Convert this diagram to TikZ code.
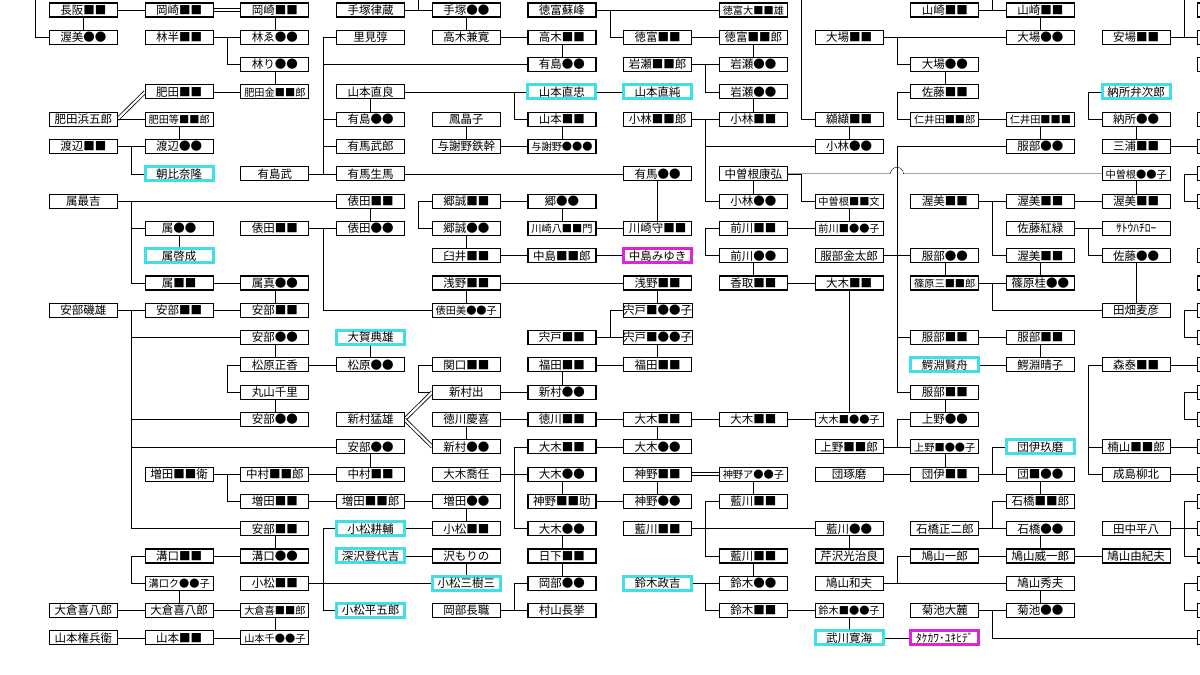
\documentclass[tikz,border=0pt]{standalone}
\usepackage{fontspec}
\setmainfont{Noto Sans CJK JP}
\definecolor{hlcyan}{RGB}{64,222,230}
\definecolor{hlpink}{RGB}{222,34,222}
\pgfdeclarelayer{paper}
\pgfdeclarelayer{wires}
\pgfsetlayers{paper,wires,main}
\tikzset{
    box/.style={draw, fill=white, line width=1.1pt, minimum width=68pt, minimum height=14pt,
        text height=10pt, text depth=1.2pt,
        inner sep=0pt, outer sep=0pt, font=\fontsize{11.5}{12}\selectfont},
    lbox/.style={box, font=\fontsize{10.2}{11}\selectfont},
    cyanbox/.style={box, draw=hlcyan, line width=3pt},
    pinkbox/.style={box, draw=hlpink, line width=3pt},
    dbl/.style={double, double distance=2.2pt, line width=.8pt}
}
\newcommand{\gapw}{13.85pt}

\begin{document}
\begin{tikzpicture}[x={(95.7pt,0)}, y={(0,-27.3pt)}, line width=1.1pt]
    \useasboundingbox (-0.8725,-0.3663) rectangle (11.667,24.359);
    \begin{pgfonlayer}{paper}
        \fill[white] (-0.8725,-0.3663) rectangle (11.667,24.359);
    \end{pgfonlayer}

    % row 0
    \node[box] (a0) at (0,0) {長阪■■};
    \node[box] (b0) at (1,0) {岡崎■■};
    \node[box] (c0) at (2,0) {岡崎■■};
    \node[box] (d0) at (3,0) {手塚律蔵};
    \node[box] (e0) at (4,0) {手塚●●};
    \node[box] (f0) at (5,0) {徳富蘇峰};
    \node[lbox] (h0) at (7,0) {徳富大■■雄};
    \node[box] (j0) at (9,0) {山崎■■};
    \node[box] (k0) at (10,0) {山崎■■};
    \node[box] (m0) at (12,0) {};
    % row 1
    \node[box] (a1) at (0,1) {渥美●●};
    \node[box] (b1) at (1,1) {林半■■};
    \node[box] (c1) at (2,1) {林ゑ●●};
    \node[box] (d1) at (3,1) {里見弴};
    \node[box] (e1) at (4,1) {高木兼寛};
    \node[box] (f1) at (5,1) {高木■■};
    \node[box] (g1) at (6,1) {徳富■■};
    \node[box] (h1) at (7,1) {徳富■■郎};
    \node[box] (i1) at (8,1) {大場■■};
    \node[box] (k1) at (10,1) {大場●●};
    \node[box] (l1) at (11,1) {安場■■};
    \node[box] (m1) at (12,1) {};
    % row 2
    \node[box] (c2) at (2,2) {林り●●};
    \node[box] (f2) at (5,2) {有島●●};
    \node[box] (g2) at (6,2) {岩瀬■■郎};
    \node[box] (h2) at (7,2) {岩瀬●●};
    \node[box] (j2) at (9,2) {大場●●};
    \node[box] (m2) at (12,2) {};
    % row 3
    \node[box] (b3) at (1,3) {肥田■■};
    \node[lbox] (c3) at (2,3) {肥田金■■郎};
    \node[box] (d3) at (3,3) {山本直良};
    \node[cyanbox] (f3) at (5,3) {山本直忠};
    \node[cyanbox] (g3) at (6,3) {山本直純};
    \node[box] (h3) at (7,3) {岩瀬●●};
    \node[box] (j3) at (9,3) {佐藤■■};
    \node[cyanbox] (l3) at (11,3) {納所弁次郎};
    % row 4
    \node[box] (a4) at (0,4) {肥田浜五郎};
    \node[lbox] (b4) at (1,4) {肥田等■■郎};
    \node[box] (d4) at (3,4) {有島●●};
    \node[box] (e4) at (4,4) {鳳晶子};
    \node[box] (f4) at (5,4) {山本■■};
    \node[box] (g4) at (6,4) {小林■■郎};
    \node[box] (h4) at (7,4) {小林■■};
    \node[box] (i4) at (8,4) {纐纈■■};
    \node[lbox] (j4) at (9,4) {仁井田■■郎};
    \node[lbox] (k4) at (10,4) {仁井田■■■};
    \node[box] (l4) at (11,4) {納所●●};
    \node[box] (m4) at (12,4) {};
    % row 5
    \node[box] (a5) at (0,5) {渡辺■■};
    \node[box] (b5) at (1,5) {渡辺●●};
    \node[box] (d5) at (3,5) {有馬武郎};
    \node[box] (e5) at (4,5) {与謝野鉄幹};
    \node[lbox] (f5) at (5,5) {与謝野●●●};
    \node[box] (i5) at (8,5) {小林●●};
    \node[box] (k5) at (10,5) {服部●●};
    \node[box] (l5) at (11,5) {三浦■■};
    \node[box] (m5) at (12,5) {};
    % row 6
    \node[cyanbox] (b6) at (1,6) {朝比奈隆};
    \node[box] (c6) at (2,6) {有島武};
    \node[box] (d6) at (3,6) {有馬生馬};
    \node[box] (g6) at (6,6) {有馬●●};
    \node[box] (h6) at (7,6) {中曽根康弘};
    \node[lbox] (l6) at (11,6) {中曽根●●子};
    \node[box] (m6) at (12,6) {};
    % row 7
    \node[box] (a7) at (0,7) {属最吉};
    \node[box] (d7) at (3,7) {俵田■■};
    \node[box] (e7) at (4,7) {郷誠■■};
    \node[box] (f7) at (5,7) {郷●●};
    \node[box] (h7) at (7,7) {小林●●};
    \node[lbox] (i7) at (8,7) {中曽根■■文};
    \node[box] (j7) at (9,7) {渥美■■};
    \node[box] (k7) at (10,7) {渥美■■};
    \node[box] (l7) at (11,7) {渥美■■};
    \node[box] (m7) at (12,7) {};
    % row 8
    \node[box] (b8) at (1,8) {属●●};
    \node[box] (c8) at (2,8) {俵田■■};
    \node[box] (d8) at (3,8) {俵田●●};
    \node[box] (e8) at (4,8) {郷誠●●};
    \node[lbox] (f8) at (5,8) {川崎八■■門};
    \node[box] (g8) at (6,8) {川崎守■■};
    \node[box] (h8) at (7,8) {前川■■};
    \node[lbox] (i8) at (8,8) {前川■●●子};
    \node[box] (k8) at (10,8) {佐藤紅緑};
    \node[box] (l8) at (11,8) {ｻﾄｳﾊﾁﾛｰ};
    % row 9
    \node[cyanbox] (b9) at (1,9) {属啓成};
    \node[box] (e9) at (4,9) {臼井■■};
    \node[box] (f9) at (5,9) {中島■■郎};
    \node[pinkbox] (g9) at (6,9) {中島みゆき};
    \node[box] (h9) at (7,9) {前川●●};
    \node[box] (i9) at (8,9) {服部金太郎};
    \node[box] (j9) at (9,9) {服部●●};
    \node[box] (k9) at (10,9) {渥美■■};
    \node[box] (l9) at (11,9) {佐藤●●};
    \node[box] (m9) at (12,9) {};
    % row 10
    \node[box] (b10) at (1,10) {属■■};
    \node[box] (c10) at (2,10) {属真●●};
    \node[box] (e10) at (4,10) {浅野■■};
    \node[box] (g10) at (6,10) {浅野■■};
    \node[box] (h10) at (7,10) {香取■■};
    \node[box] (i10) at (8,10) {大木■■};
    \node[lbox] (j10) at (9,10) {篠原三■■郎};
    \node[box] (k10) at (10,10) {篠原桂●●};
    \node[box] (m10) at (12,10) {};
    % row 11
    \node[box] (a11) at (0,11) {安部磯雄};
    \node[box] (b11) at (1,11) {安部■■};
    \node[box] (c11) at (2,11) {安部■■};
    \node[lbox] (e11) at (4,11) {俵田美●●子};
    \node[box] (g11) at (6,11) {宍戸■●●子};
    \node[box] (l11) at (11,11) {田畑麦彦};
    \node[box] (m11) at (12,11) {};
    % row 12
    \node[box] (c12) at (2,12) {安部●●};
    \node[cyanbox] (d12) at (3,12) {大賀典雄};
    \node[box] (f12) at (5,12) {宍戸■■};
    \node[box] (g12) at (6,12) {宍戸■●●子};
    \node[box] (j12) at (9,12) {服部■■};
    \node[box] (k12) at (10,12) {服部■■};
    \node[box] (m12) at (12,12) {};
    % row 13
    \node[box] (c13) at (2,13) {松原正香};
    \node[box] (d13) at (3,13) {松原●●};
    \node[box] (e13) at (4,13) {関口■■};
    \node[box] (f13) at (5,13) {福田■■};
    \node[box] (g13) at (6,13) {福田■■};
    \node[cyanbox] (j13) at (9,13) {鰐淵賢舟};
    \node[box] (k13) at (10,13) {鰐淵晴子};
    \node[box] (l13) at (11,13) {森泰■■};
    \node[box] (m13) at (12,13) {};
    % row 14
    \node[box] (c14) at (2,14) {丸山千里};
    \node[box] (e14) at (4,14) {新村出};
    \node[box] (f14) at (5,14) {新村●●};
    \node[box] (j14) at (9,14) {服部■■};
    \node[box] (m14) at (12,14) {};
    % row 15
    \node[box] (c15) at (2,15) {安部●●};
    \node[box] (d15) at (3,15) {新村猛雄};
    \node[box] (e15) at (4,15) {徳川慶喜};
    \node[box] (f15) at (5,15) {徳川■■};
    \node[box] (g15) at (6,15) {大木■■};
    \node[box] (h15) at (7,15) {大木■■};
    \node[lbox] (i15) at (8,15) {大木■●●子};
    \node[box] (j15) at (9,15) {上野●●};
    \node[box] (m15) at (12,15) {};
    % row 16
    \node[box] (d16) at (3,16) {安部●●};
    \node[box] (e16) at (4,16) {新村●●};
    \node[box] (f16) at (5,16) {大木■■};
    \node[box] (g16) at (6,16) {大木●●};
    \node[box] (i16) at (8,16) {上野■■郎};
    \node[lbox] (j16) at (9,16) {上野■●●子};
    \node[cyanbox] (k16) at (10,16) {団伊玖磨};
    \node[box] (l16) at (11,16) {楠山■■郎};
    \node[box] (m16) at (12,16) {};
    % row 17
    \node[box] (b17) at (1,17) {増田■■衛};
    \node[box] (c17) at (2,17) {中村■■郎};
    \node[box] (d17) at (3,17) {中村■■};
    \node[box] (e17) at (4,17) {大木喬任};
    \node[box] (f17) at (5,17) {大木●●};
    \node[box] (g17) at (6,17) {神野■■};
    \node[lbox] (h17) at (7,17) {神野ア●●子};
    \node[box] (i17) at (8,17) {団琢磨};
    \node[box] (j17) at (9,17) {団伊■■};
    \node[box] (k17) at (10,17) {団■●●};
    \node[box] (l17) at (11,17) {成島柳北};
    \node[box] (m17) at (12,17) {};
    % row 18
    \node[box] (c18) at (2,18) {増田■■};
    \node[box] (d18) at (3,18) {増田■■郎};
    \node[box] (e18) at (4,18) {増田●●};
    \node[box] (f18) at (5,18) {神野■■助};
    \node[box] (g18) at (6,18) {神野●●};
    \node[box] (h18) at (7,18) {藍川■■};
    \node[box] (k18) at (10,18) {石橋■■郎};
    \node[box] (m18) at (12,18) {};
    % row 19
    \node[box] (c19) at (2,19) {安部■■};
    \node[cyanbox] (d19) at (3,19) {小松耕輔};
    \node[box] (e19) at (4,19) {小松■■};
    \node[box] (f19) at (5,19) {大木●●};
    \node[box] (g19) at (6,19) {藍川■■};
    \node[box] (i19) at (8,19) {藍川●●};
    \node[box] (j19) at (9,19) {石橋正二郎};
    \node[box] (k19) at (10,19) {石橋●●};
    \node[box] (l19) at (11,19) {田中平八};
    \node[box] (m19) at (12,19) {};
    % row 20
    \node[box] (b20) at (1,20) {溝口■■};
    \node[box] (c20) at (2,20) {溝口●●};
    \node[cyanbox] (d20) at (3,20) {深沢登代吉};
    \node[box] (e20) at (4,20) {沢もりの};
    \node[box] (f20) at (5,20) {日下■■};
    \node[box] (h20) at (7,20) {藍川■■};
    \node[box] (i20) at (8,20) {芹沢光治良};
    \node[box] (j20) at (9,20) {鳩山一郎};
    \node[box] (k20) at (10,20) {鳩山威一郎};
    \node[box] (l20) at (11,20) {鳩山由紀夫};
    \node[box] (m20) at (12,20) {};
    % row 21
    \node[lbox] (b21) at (1,21) {溝口ク●●子};
    \node[box] (c21) at (2,21) {小松■■};
    \node[cyanbox] (e21) at (4,21) {小松三樹三};
    \node[box] (f21) at (5,21) {岡部●●};
    \node[cyanbox] (g21) at (6,21) {鈴木政吉};
    \node[box] (h21) at (7,21) {鈴木●●};
    \node[box] (i21) at (8,21) {鳩山和夫};
    \node[box] (k21) at (10,21) {鳩山秀夫};
    \node[box] (m21) at (12,21) {};
    % row 22
    \node[box] (a22) at (0,22) {大倉喜八郎};
    \node[box] (b22) at (1,22) {大倉喜八郎};
    \node[lbox] (c22) at (2,22) {大倉喜■■郎};
    \node[cyanbox] (d22) at (3,22) {小松平五郎};
    \node[box] (e22) at (4,22) {岡部長職};
    \node[box] (f22) at (5,22) {村山長挙};
    \node[box] (h22) at (7,22) {鈴木■■};
    \node[lbox] (i22) at (8,22) {鈴木■●●子};
    \node[box] (j22) at (9,22) {菊池大麓};
    \node[box] (k22) at (10,22) {菊池●●};
    \node[box] (m22) at (12,22) {};
    % row 23
    \node[box] (a23) at (0,23) {山本権兵衛};
    \node[box] (b23) at (1,23) {山本■■};
    \node[lbox] (c23) at (2,23) {山本千●●子};
    \node[cyanbox] (i23) at (8,23) {武川寛海};
    \node[pinkbox] (j23) at (9,23) {ﾀｹｶﾜ･ﾕｷﾋﾃﾞ};
    \node[box] (m23) at (12,23) {};

    % free ends above the top edge, and the crossing
    \coordinate (topa) at (-0.5,-0.5);
    \coordinate (tope) at (3.5,-0.5);
    \coordinate (topi) at (7.5,-0.5);
    \coordinate (topk) at (9.5,-0.5);
    \coordinate (topm) at (11.5,-0.5);
    \coordinate (hop) at (8.5,6);

    \begin{pgfonlayer}{wires}
    \draw (topa) |- (a1);
    \draw (tope) |- (e0);
    \draw (topi) |- (i4);
    \draw (topk) |- (k0);
    \draw (topm) |- (m1);

    % horizontal links and forks
    \draw (a0) -- (b0);
    \draw[dbl] (b0) -- (c0);
    \draw (d0) -- (e0);
    \draw (f0) -- (h0);
    \draw (f0.east) ++(\gapw,0) |- (g1);
    \draw (j0) -- (k0);

    \draw (b1) -- (c1);
    \draw (b1.east) ++(\gapw,0) |- (c2);
    \draw (e1) -- (f1);
    \draw (g1) -- (h1);
    \draw (i1) -- (k1);
    \draw (i1.east) ++(\gapw,0) |- (j2);
    \draw (l1) -- (m1);

    \draw (g2) -- (h2);
    \draw (g2.east) ++(\gapw,0) |- (h3);

    \draw (b3) -- (c3);
    \draw (d3) -- (f3);
    \draw ([xshift=-\gapw]f3.west) |- (f4);
    \draw (f3) -- (g3);
    \draw (j3.west) -- ++(-\gapw,0) |- (j4);
    \draw (l3.west) -- ++(-\gapw,0) |- (l4);

    \draw[dbl] (a4.east) -- (b3.west);
    \draw (a4) -- (b4);
    \draw (g4) -- (h4);
    \draw (g4.east) ++(\gapw,0) |- (h7);
    \draw (g4.east) ++(\gapw,0) |- (i5);
    \draw (j4) -- (k4);

    \draw (a5) -- (b5);
    \draw (a5.east) ++(\gapw,0) |- (b6);
    \draw (e5) -- (f5);
    \draw (k5) -| ([xshift=-\gapw]j14.west) -- (j14);
    \draw ([xshift=-\gapw]j12.west) -- (j12);
    \draw (l5) -- (m5);

    \draw (c6) -- (d6);
    \draw (c6.east) ++(\gapw,0) |- (d1);
    \draw (c6.east) ++(\gapw,0) |- (f2);
    \draw (c6.east) ++(\gapw,0) |- (d4);
    \draw (c6.east) ++(\gapw,0) |- (d5);
    \draw (d6) -- (g6);
    \draw (h6.east) -- ([xshift=-6.5pt]hop) arc[start angle=180, end angle=0, radius=6.5pt] -- (l6);
    \draw (h6.east) -- ++(\gapw,0) |- (i7);
    \draw (m6.west) -- ++(-\gapw,0) |- (m7);

    \draw (a7) -- (d7);
    \draw (a7.east) ++(\gapw,0) |- (b8);
    \draw (a7.east) ++(\gapw,0) |- (b10);
    \draw (e7) -- (f7);
    \draw (e7.west) -- ++(-\gapw,0) |- (e8);
    \draw (j7) -- (k7);
    \draw (j7.east) ++(\gapw,0) |- (k9);
    \draw (k7) -- (l7);

    \draw (c8) -- (d8);
    \draw (c8.east) ++(\gapw,0) |- (e11);
    \draw (f8) -- (g8);
    \draw (h8) -- (i8);
    \draw (h8.west) -- ++(-\gapw,0) |- (h9);
    \draw (k8) -- (l8);
    \draw (k8.east) ++(\gapw,0) |- (l9);

    \draw (e9) -- (f9);
    \draw (f9) -- (g9);
    \draw (i9) -- (j9);

    \draw (b10) -- (c10);
    \draw (e10) -- (g10);
    \draw (h10) -- (i10);
    \draw (j10) -- (k10);
    \draw (j10.east) ++(\gapw,0) |- (l11);

    \draw (a11) -- (b11);
    \draw (b11) -- (c11);
    \draw (a11.east) ++(\gapw,0) |- (c12);
    \draw (a11.east) ++(\gapw,0) |- (c15);
    \draw (a11.east) ++(\gapw,0) |- (d16);
    \draw (a11.east) ++(\gapw,0) |- (c19);
    \draw (m11.west) -- ++(-\gapw,0) |- (m12);

    \draw (f12) -- (g12);
    \draw (f12.east) ++(\gapw,0) |- (g11);
    \draw (j12) -- (k12);

    \draw (c13) -- (d13);
    \draw (c13.west) -- ++(-\gapw,0) |- (c14);
    \draw (e13.west) -- ++(-\gapw,0) |- (e14);
    \draw (f13) -- (g13);
    \draw (j13) -- (k13);
    \draw (l13) -- (m13);
    \draw (l13.west) -- ++(-\gapw,0) |- (l17);
    \draw (l13.west) ++(-\gapw,0) |- (l16);

    \draw (e14) -- (f14);
    \draw[dbl] (d15.east) -- (e14.west);
    \draw[dbl] (d15.east) -- (e16.west);
    \draw (m14.west) -- ++(-\gapw,0) |- (m15);
    \draw (e15) -- (f15);
    \draw (f15) -- (g15);
    \draw (g15) -- (h15);
    \draw (h15) -- (i15);

    \draw (f16) -- (g16);
    \draw (i16) -- (j16);
    \draw (i16.east) ++(\gapw,0) |- (j15);
    \draw (l16) -- (m16);

    \draw (b17) -- (c17);
    \draw (b17.east) ++(\gapw,0) |- (c18);
    \draw (c17) -- (d17);
    \draw (e17) -- (f17);
    \draw (e17.east) ++(\gapw,0) |- (f16);
    \draw (e17.east) ++(\gapw,0) |- (f19);
    \draw[dbl] (g17) -- (h17);
    \draw (i17) -- (j17);
    \draw (j17) -- (k17);
    \draw (j17.east) ++(\gapw,0) |- (k16);
    \draw (l17) -- (m17);

    \draw (c18) -- (d18);
    \draw (d18) -- (e18);
    \draw (f18) -- (g18);

    \draw (d19) -- (e19);
    \draw (g19) -- (i19);
    \draw (g19.east) ++(\gapw,0) |- (h18);
    \draw (g19.east) ++(\gapw,0) |- (h20);
    \draw (j19) -- (k19);
    \draw (j19.east) ++(\gapw,0) |- (k18);
    \draw (l19) -- (m19);
    \draw (l19.east) ++(\gapw,0) |- (m18);
    \draw (l19.east) ++(\gapw,0) |- (m20);

    \draw (b20) -- (c20);
    \draw (b20.west) -- ++(-\gapw,0) |- (b21);
    \draw (d20) -- (e20);
    \draw (j20) -- (k20);
    \draw (k20) -- (l20);

    \draw (c21) -- (e21);
    \draw (c21.east) ++(\gapw,0) |- (d19);
    \draw (c21.east) ++(\gapw,0) |- (d22);
    \draw (g21) -- (h21);
    \draw (g21.east) ++(\gapw,0) |- (h22);
    \draw (i21) -- (k21);
    \draw (i21.east) ++(\gapw,0) |- (j20);
    \draw (m21.west) -- ++(-\gapw,0) |- (m22);

    \draw (a22) -- (b22);
    \draw (b22) -- (c22);
    \draw (e22) -- (f22);
    \draw (e22.east) ++(\gapw,0) |- (f21);
    \draw (h22) -- (i22);
    \draw (j22) -- (k22);
    \draw (j22.east) ++(\gapw,0) |- (m23);

    \draw (a23) -- (b23);
    \draw (b23) -- (c23);
    \draw (i23) -- (j23);

    % vertical links
    \draw (a0) -- (a1);
    \draw (c0) -- (c1);
    \draw (c2) -- (c3);
    \draw (b4) -- (b5);
    \draw (e0) -- (e1);
    \draw (f1) -- (f2);
    \draw (h1) -- (h2);
    \draw (h3) -- (h4);
    \draw (k0) -- (k1);
    \draw (j2) -- (j3);
    \draw (d3) -- (d4);
    \draw (e4) -- (e5);
    \draw (f4) -- (f5);
    \draw (i4) -- (i5);
    \draw (k4) -- (k5);
    \draw (l4) -- (l5);
    \draw (h6) -- (h7);
    \draw (l6) -- (l7);
    \draw (d7) -- (d8);
    \draw (b8) -- (b9);
    \draw (f7) -- (f8);
    \draw (g6) -- (g8);
    \draw (e8) -- (e9);
    \draw (i7) -- (i8);
    \draw (h9) -- (h10);
    \draw (j9) -- (j10);
    \draw (k9) -- (k10);
    \draw (l9) -- (l11);
    \draw (e10) -- (e11);
    \draw (g10) -- (g11);
    \draw (c10) -- (c11);
    \draw (c12) -- (c13);
    \draw (d12) -- (d13);
    \draw (g12) -- (g13);
    \draw (f13) -- (f14);
    \draw (k12) -- (k13);
    \draw (c14) -- (c15);
    \draw (e15) -- (e16);
    \draw (g15) -- (g16);
    \draw (i10) -- (i15);
    \draw (j14) -- (j15);
    \draw (d16) -- (d17);
    \draw (j16) -- (j17);
    \draw (f17) -- (f18);
    \draw (g17) -- (g18);
    \draw (h17) -- (h18);
    \draw (k17) -- (k18);
    \draw (e18) -- (e19);
    \draw (c19) -- (c20);
    \draw (f19) -- (f20);
    \draw (f20) -- (f21);
    \draw (i19) -- (i20);
    \draw (k19) -- (k20);
    \draw (e20) -- (e21);
    \draw (h20) -- (h21);
    \draw (k21) -- (k22);
    \draw (b21) -- (b22);
    \draw (c22) -- (c23);
    \draw (i22) -- (i23);
    \end{pgfonlayer}
\end{tikzpicture}
\end{document}
